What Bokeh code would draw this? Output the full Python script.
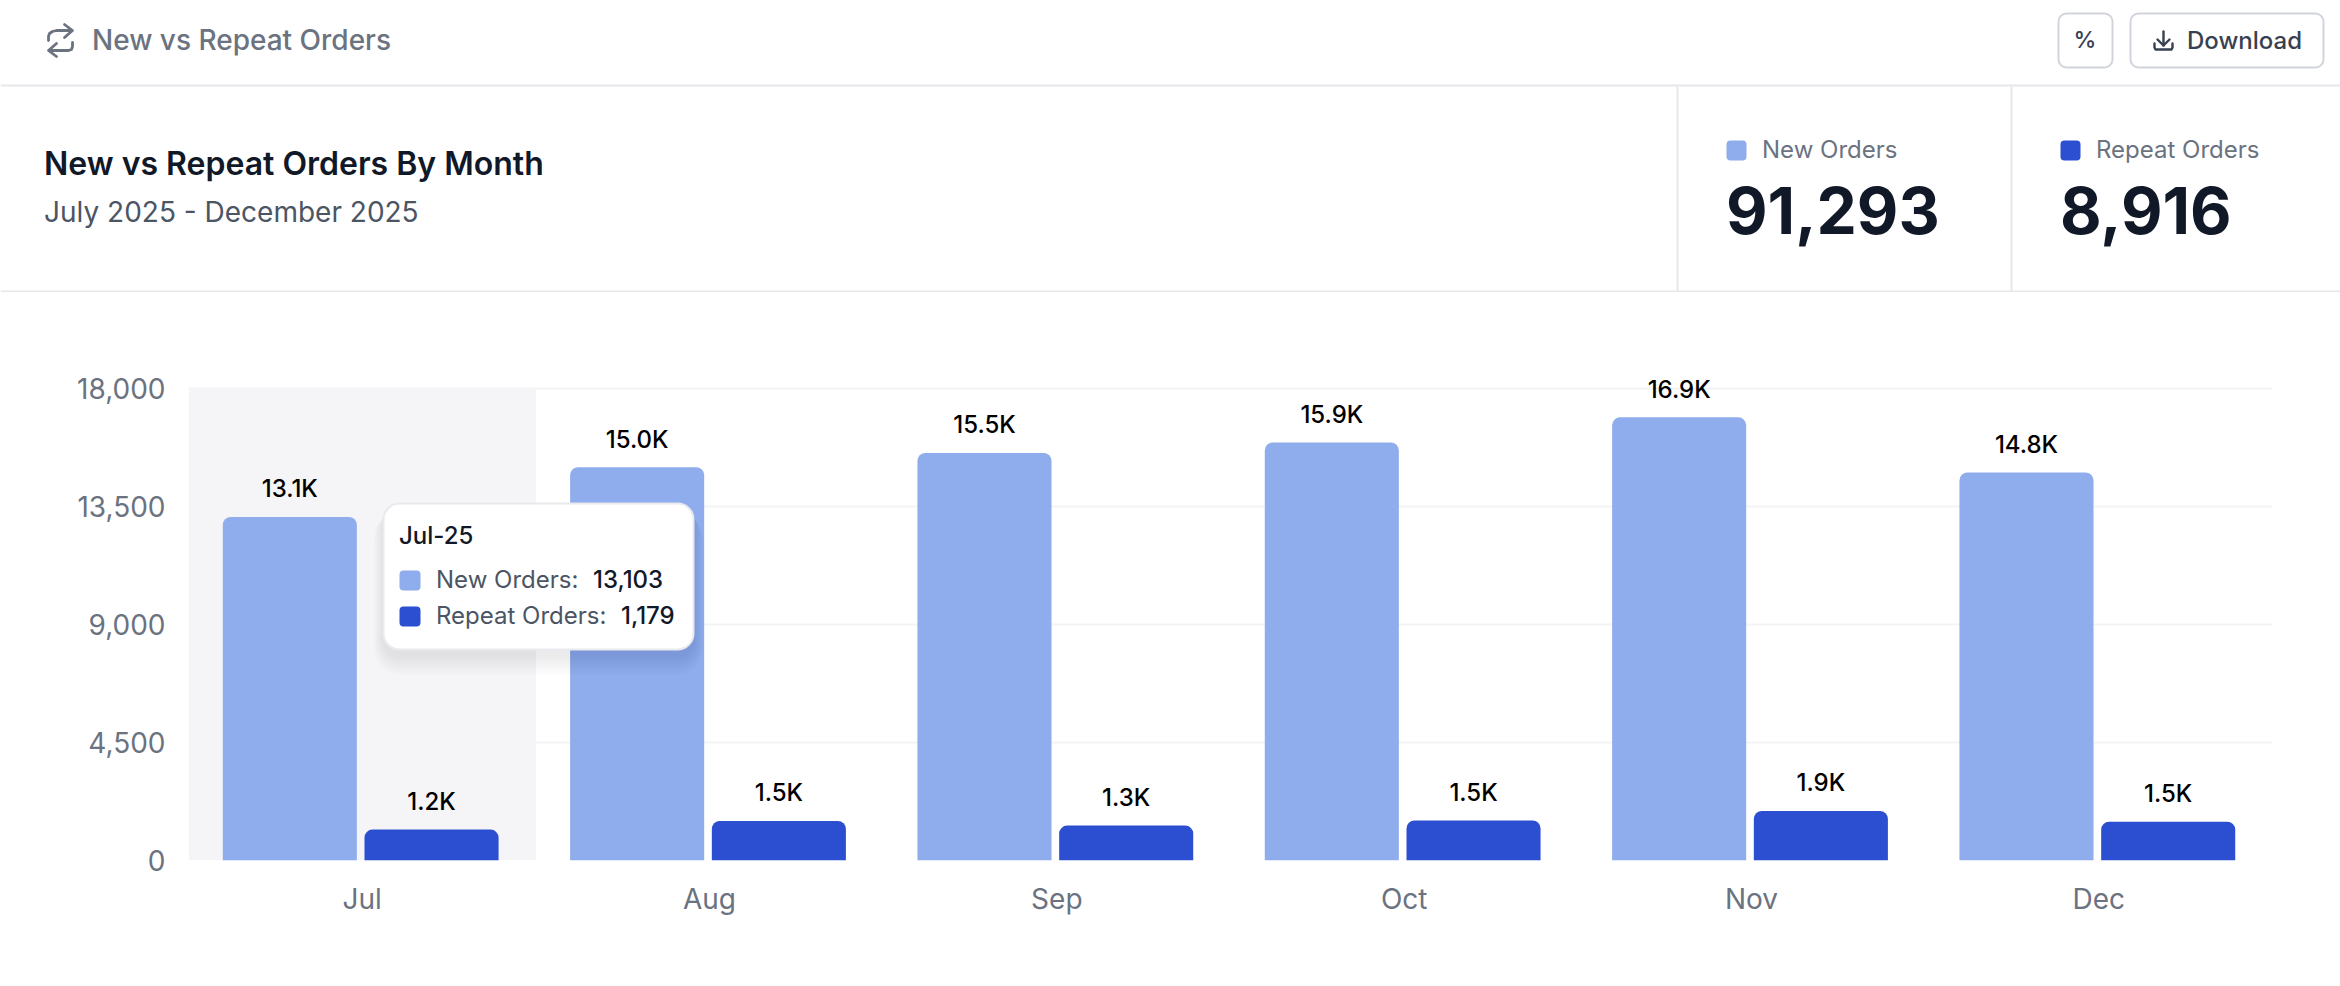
# new vs repeat orders dashboard card
from bokeh.core.properties import value
from bokeh.embed import file_html
from bokeh.layouts import column
from bokeh.models import BoxAnnotation, ColumnDataSource, FactorRange, FixedTicker, Label, Range1d
from bokeh.plotting import figure
from bokeh.resources import INLINE
from bokeh.transform import dodge

months = ["Jul", "Aug", "Sep", "Oct", "Nov", "Dec"]
new_orders = [13103, 15000, 15545, 15945, 16900, 14800]
repeat_orders = [1179, 1510, 1330, 1525, 1890, 1482]
y_ticks = [0, 4500, 9000, 13500, 18000]

LIGHT = "#8facec"
DARK = "#2c4ed1"
LINE = "#e5e7eb"
GRID = "#f3f4f6"
INK = "#111827"
FONT = "Inter"
MEDIUM = "Inter Medium"
SEMI = "Inter SemiBold"


def short(values):
    return [f"{v / 1000:.1f}K" for v in values]


# ---- top part of the card, drawn in page pixels
head = figure(width=2340, height=292, output_backend="svg", toolbar_location=None,
              x_range=Range1d(0, 2340), y_range=Range1d(292, 0), min_border=0, frame_align=False)
head.axis.visible = False
head.grid.visible = False
head.outline_line_color = None


def write(text, x, y, size, color, font=FONT, style="normal", align="left"):
    head.text([x], [y], text=[text], text_font=value(font), text_font_size=f"{size}px", text_font_style=style,
              text_color=color, text_align=align, text_baseline="middle")


def box(x0, x1, y0, y1, color=None, line=None, radius=0, width=2):
    head.quad(left=[x0], right=[x1], top=[y0], bottom=[y1], fill_color=color, fill_alpha=1 if color else 0,
              line_color=line, line_width=width, border_radius=radius)


# dividers
head.segment([0, 0, 1677, 2011], [85, 291, 86, 86], [2340, 2340, 1677, 2011], [85, 291, 291, 291],
             line_color=LINE, line_width=2)

# repeat icon
head.multi_line(
    [[48, 48, 49, 52, 56, 71], [64, 72, 64], [72, 72, 71, 68, 64, 49], [56, 48, 56]],
    [[40, 36, 33, 31, 30, 30], [24, 30, 37], [42, 46, 49, 50, 50, 50], [43, 50, 56]],
    line_color="#6b7280", line_width=2.8, line_cap="round", line_join="round")
write("New vs Repeat Orders", 91.5, 39, 28, "#6b7280", MEDIUM)

# buttons
box(2058, 2112, 13, 67, line="#d1d5db", radius=8)
write("%", 2084.5, 39.5, 23, "#374151", MEDIUM, align="center")
box(2130, 2323, 13, 67, line="#d1d5db", radius=8)
head.multi_line(
    [[2163, 2163], [2157, 2163, 2169], [2154, 2154, 2155, 2158, 2168, 2171, 2172, 2172]],
    [[31, 45], [39, 45, 39], [43, 47, 49, 49, 49, 49, 47, 43]],
    line_color="#374151", line_width=2.4, line_cap="round", line_join="round")
write("Download", 2186.5, 39.5, 24, "#374151", MEDIUM)

# title
write("New vs Repeat Orders By Month", 43.5, 163, 32, INK, SEMI)
write("July 2025 - December 2025", 43.5, 211, 28, "#4b5563")

# totals
box(1726, 1746, 140, 160, color=LIGHT, radius=4, width=0)
write("New Orders", 1761.5, 149, 24, "#6b7280")
write(f"{sum(new_orders):,}", 1725.5, 210, 64, INK, style="bold")
box(2060, 2080, 140, 160, color=DARK, radius=4, width=0)
write("Repeat Orders", 2095.5, 149, 24, "#6b7280")
write(f"{sum(repeat_orders):,}", 2059.5, 210, 64, INK, style="bold")

# ---- bars
source = ColumnDataSource(dict(month=months, new=new_orders, repeat=repeat_orders,
                               new_label=short(new_orders), repeat_label=short(repeat_orders)))

# the frame goes a bit above the last tick so the tallest label is not cut
p = figure(width=2340, height=694, output_backend="svg", toolbar_location=None,
           x_range=FactorRange(factors=months), y_range=Range1d(y_ticks[0], y_ticks[-1] * 512 / 472),
           min_border_left=188, min_border_right=68, min_border_top=56, min_border_bottom=126, frame_align=False)
p.outline_line_color = None
p.xgrid.visible = False
p.ygrid.ticker = FixedTicker(ticks=y_ticks)
p.ygrid.grid_line_color = GRID
p.ygrid.grid_line_width = 2
p.yaxis.ticker = FixedTicker(ticks=y_ticks)
p.yaxis.major_label_overrides = {t: f"{t:,}" for t in y_ticks}
p.axis.axis_line_color = None
p.axis.major_tick_line_color = None
p.axis.minor_tick_line_color = None
p.axis.major_label_text_font = FONT
p.axis.major_label_text_font_size = "28px"
p.axis.major_label_text_color = "#6b7280"
p.yaxis.major_label_standoff = 17
p.xaxis.major_label_standoff = 15

# hovered month background
p.vbar(x=[months[0]], top=[y_ticks[-1]], width=1, color="#f5f5f7", line_width=0)

left_shift = -0.2083
right_shift = 0.1997
bar_w = 0.386
corners = dict(top_left=8, top_right=8, bottom_left=0, bottom_right=0)
p.vbar(x=dodge("month", left_shift, range=p.x_range), top="new", width=bar_w, source=source,
       fill_color=LIGHT, line_color=None, border_radius=corners)
p.vbar(x=dodge("month", right_shift, range=p.x_range), top="repeat", width=bar_w, source=source,
       fill_color=DARK, line_color=None, border_radius=corners)
p.text(x=dodge("month", left_shift, range=p.x_range), y="new", text="new_label", source=source, y_offset=-28,
       text_font=value(MEDIUM), text_font_size="24px", text_color="#000000", text_align="center", text_baseline="middle")
p.text(x=dodge("month", right_shift, range=p.x_range), y="repeat", text="repeat_label", source=source, y_offset=-28,
       text_font=value(MEDIUM), text_font_size="24px", text_color="#000000", text_align="center", text_baseline="middle")


# ---- tooltip, page pixels turned into frame pixels
def tip_box(x0, x1, y0, y1, color, alpha=1.0, radius=16, line=None):
    p.add_layout(BoxAnnotation(left=x0 - 188, right=x1 - 188, top=860 - y0, bottom=860 - y1,
                               left_units="screen", right_units="screen", top_units="screen", bottom_units="screen",
                               fill_color=color, fill_alpha=alpha, line_color=line, line_width=2,
                               line_alpha=1 if line else 0, border_radius=radius, level="overlay"))


def tip_text(text, x, y, color, font=FONT):
    p.add_layout(Label(x=x - 188, y=860 - y, x_units="screen", y_units="screen", text=text, text_font=font,
                       text_font_size="24px", text_color=color, text_baseline="middle", level="overlay"))


for grow in range(1, 11):
    tip_box(383 - grow, 693 + grow, 503 + grow, 649 + 6 + 2 * grow, "#000000", alpha=0.007, radius=16 + grow)
tip_box(383, 693, 503, 649, "#ffffff", line="#e9eaee")
tip_text(f"{months[0]}-25", 398.5, 534.5, INK, MEDIUM)
tip_box(399, 420, 570, 590, LIGHT, radius=4)
tip_text("New Orders:", 435.5, 578.5, "#4b5563")
tip_text(f"{new_orders[0]:,}", 592.5, 578.5, INK, MEDIUM)
tip_box(399, 420, 606, 626, DARK, radius=4)
tip_text("Repeat Orders:", 435.5, 614.5, "#4b5563")
tip_text(f"{repeat_orders[0]:,}", 620.5, 614.5, INK, MEDIUM)

page = column(head, p, spacing=0)
open("out.html", "w").write(file_html(page, INLINE))
